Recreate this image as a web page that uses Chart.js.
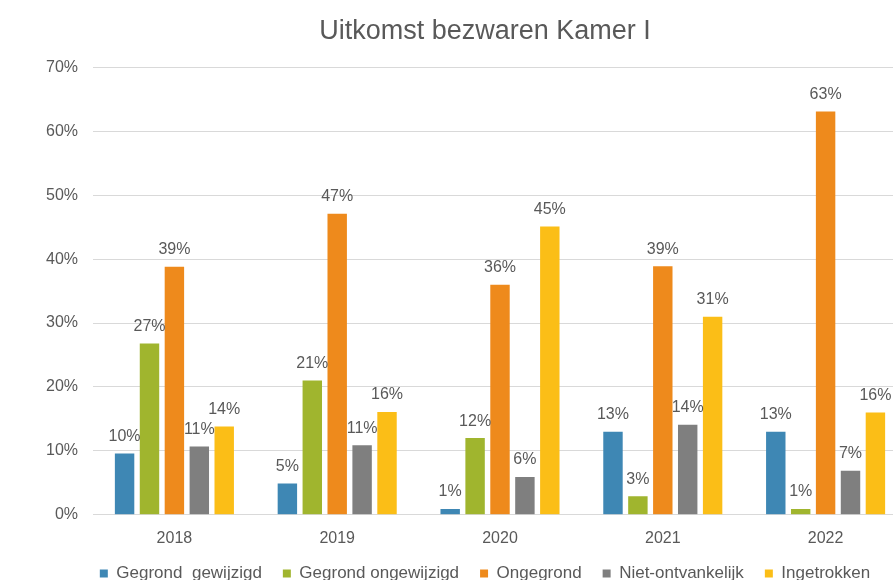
<!DOCTYPE html>
<html>
<head>
<meta charset="utf-8">
<script src="https://cdn.jsdelivr.net/npm/chart.js@4"></script>
<style>
html,body{margin:0;padding:0;background:#fff;overflow:hidden;}
#wrap{width:970px;height:610px;position:relative;}
</style>
</head>
<body>
<div id="wrap"><canvas id="c"></canvas></div>
<script>
const categories = ['2018', '2019', '2020', '2021', '2022'];
const gegrondGewijzigd = [9.6, 4.9, 0.9, 13.0, 13.0];
const gegrondOngewijzigd = [26.8, 21.0, 12.0, 2.9, 0.9];
const ongegrond = [38.8, 47.1, 36.0, 38.9, 63.1];
const nietOntvankelijk = [10.7, 10.9, 5.9, 14.1, 6.9];
const ingetrokken = [13.8, 16.1, 45.1, 31.0, 16.0];
const seriesNames = ['Gegrond  gewijzigd', 'Gegrond ongewijzigd', 'Ongegrond', 'Niet-ontvankelijk', 'Ingetrokken'];
const yTicks = [0, 10, 20, 30, 40, 50, 60, 70];

const colors = ['#3E87B4', '#A0B52E', '#EE8A1C', '#7F7F7F', '#FBBE17'];
const values = [gegrondGewijzigd, gegrondOngewijzigd, ongegrond, nietOntvankelijk, ingetrokken];

const FONT = '"Liberation Sans", Arial, sans-serif';
const TXT = '#595959';

const labelPlugin = {
  id: 'barLabels',
  afterLayout(chart) {
    const lg = chart.legend;
    if (lg) {
      const d = 544 - lg.top;
      lg.top += d;
      lg.bottom += d;
    }
  },
  afterDatasetsDraw(chart) {
    const ctx = chart.ctx;
    ctx.save();
    ctx.font = '16px ' + FONT;
    ctx.fillStyle = TXT;
    ctx.textAlign = 'center';
    ctx.textBaseline = 'middle';
    chart.data.datasets.forEach((ds, i) => {
      const meta = chart.getDatasetMeta(i);
      meta.data.forEach((bar, j) => {
        ctx.fillText(Math.round(ds.data[j]) + '%', bar.x, bar.y - 17);
      });
    });
    ctx.restore();
  }
};

new Chart(document.getElementById('c'), {
  type: 'bar',
  data: {
    labels: categories,
    datasets: values.map((v, i) => ({
      label: seriesNames[i],
      data: v,
      backgroundColor: colors[i],
      borderWidth: 0,
      categoryPercentage: 0.765,
      barPercentage: 0.78
    }))
  },
  options: {
    responsive: true,
    maintainAspectRatio: false,
    animation: false,
    devicePixelRatio: 1,
    layout: { padding: 0 },
    plugins: {
      title: {
        display: true,
        text: 'Uitkomst bezwaren Kamer I',
        color: TXT,
        font: { family: FONT, size: 27, weight: 'normal' },
        padding: { top: 15, bottom: 20 }
      },
      legend: {
        position: 'bottom',
        labels: {
          color: TXT,
          font: { family: FONT, size: 17 },
          boxWidth: 8,
          boxHeight: 8,
          padding: 21
        }
      },
      tooltip: { enabled: false }
    },
    scales: {
      x: {
        grid: { display: false, drawTicks: false },
        border: { display: false },
        ticks: { color: TXT, font: { family: FONT, size: 16 }, padding: 14 }
      },
      y: {
        min: 0,
        max: 70,
        afterFit(s) { s.width = 93; },
        afterBuildTicks(s) { s.ticks = yTicks.map(v => ({ value: v })); },
        grid: { color: '#D9D9D9', drawTicks: false, lineWidth: 1 },
        border: { display: false },
        ticks: {
          color: TXT,
          font: { family: FONT, size: 16 },
          padding: 15,
          callback: v => v + '%'
        }
      },
      yRight: {
        position: 'right',
        min: 0,
        max: 70,
        afterFit(s) { s.width = 63; },
        grid: { display: false, drawTicks: false },
        border: { display: false },
        ticks: { display: false }
      }
    }
  },
  plugins: [labelPlugin]
});
</script>
</body>
</html>
